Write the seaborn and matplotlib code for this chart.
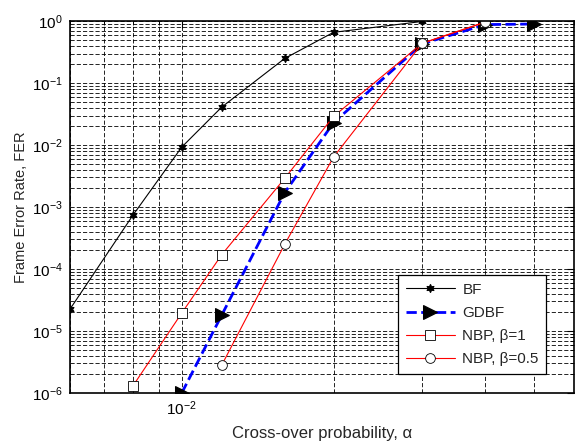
import numpy as np
import pandas as pd
import seaborn as sns
import matplotlib
matplotlib.use("Agg")
import matplotlib.pyplot as plt
from matplotlib.ticker import LogLocator, NullFormatter, FixedLocator, FixedFormatter

# data
bf_x = [6e-3, 8e-3, 1e-2, 1.2e-2, 1.6e-2, 2e-2, 3e-2]
bf_y = [2.25e-5, 7.4e-4, 9.3e-3, 4.1e-2, 0.25, 0.66, 0.99]

gdbf_x = [1e-2, 1.2e-2, 1.6e-2, 2e-2, 3e-2, 4e-2, 5e-2]
gdbf_y = [1e-6, 1.8e-5, 1.7e-3, 2.3e-2, 0.43, 0.88, 0.9]

nbp1_x = [8e-3, 1e-2, 1.2e-2, 1.6e-2, 2e-2, 3e-2, 4e-2]
nbp1_y = [1.3e-6, 1.95e-5, 1.7e-4, 2.9e-3, 2.9e-2, 0.44, 0.96]

nbp05_x = [1.2e-2, 1.6e-2, 2e-2, 3e-2, 4e-2]
nbp05_y = [2.8e-6, 2.5e-4, 6.4e-3, 0.44, 0.97]

sns.set_style("white")
plt.rcParams['font.family'] = ['Liberation Sans', 'DejaVu Sans']
plt.rcParams['mathtext.fontset'] = 'custom'
plt.rcParams['mathtext.rm'] = 'Liberation Sans'
plt.rcParams['mathtext.it'] = 'Liberation Sans'
plt.rcParams['mathtext.default'] = 'regular'

fig = plt.figure(figsize=(5.76, 4.41), dpi=100)
ax = fig.add_axes([0.1215, 0.109, 0.875, 0.843])

hexagram = (6, 1, 0)
sns.lineplot(x=bf_x, y=bf_y, ax=ax, color='black', lw=0.8, marker=hexagram,
             markersize=6, markerfacecolor='black', markeredgecolor='black',
             label='BF', sort=False)
sns.lineplot(x=gdbf_x, y=gdbf_y, ax=ax, color='blue', lw=2, linestyle='--',
             marker='>', markersize=10, markerfacecolor='black',
             markeredgecolor='black', label='GDBF', sort=False)
sns.lineplot(x=nbp1_x, y=nbp1_y, ax=ax, color='red', lw=0.8, marker='s',
             markersize=7, markerfacecolor='white', markeredgecolor='black',
             markeredgewidth=0.6, label='NBP, β=1', sort=False)
sns.lineplot(x=nbp05_x, y=nbp05_y, ax=ax, color='red', lw=0.8, marker='o',
             markersize=7, markerfacecolor='white', markeredgecolor='black',
             markeredgewidth=0.6, label='NBP, β=0.5', sort=False)

ax.set_xscale('log')
ax.set_yscale('log')
ax.set_xlim(6e-3, 6e-2)
ax.set_ylim(1e-6, 1)

ax.xaxis.set_major_locator(FixedLocator([1e-2]))
ax.xaxis.set_major_formatter(FixedFormatter([r'$10^{-2}$']))
ax.xaxis.set_minor_locator(LogLocator(base=10, subs=np.arange(2, 10)))
ax.xaxis.set_minor_formatter(NullFormatter())
ax.yaxis.set_major_locator(LogLocator(base=10, numticks=10))
ax.yaxis.set_minor_locator(LogLocator(base=10, subs=np.arange(2, 10), numticks=10))
ax.yaxis.set_minor_formatter(NullFormatter())

grid_kw = dict(color='black', linestyle=(0, (5, 2.5)), linewidth=0.6)
ax.grid(True, which='both', axis='both', **grid_kw)
ax.set_axisbelow(True)

ax.tick_params(which='both', direction='in', top=True, right=True,
               labelsize=11, colors='black', pad=5)
ax.tick_params(which='major', length=5)
ax.tick_params(which='minor', length=3)
for s in ax.spines.values():
    s.set_color('black')
    s.set_linewidth(1.2)

ax.set_xlabel('Cross-over probability, α', fontsize=12)
ax.xaxis.set_label_coords(0.5, -0.09)
ax.set_ylabel('Frame Error Rate, FER', fontsize=10.5, labelpad=3)

leg = ax.legend(loc='lower right', bbox_to_anchor=(0.945, 0.051), fontsize=11,
                frameon=True, fancybox=False, edgecolor='black',
                handlelength=3.2, borderpad=0.5, labelspacing=0.6,
                handletextpad=0.5, borderaxespad=0)
leg.get_frame().set_linewidth(0.9)
leg.get_frame().set_alpha(1)

fig.savefig('out.png', dpi=100)
plt.close(fig)
